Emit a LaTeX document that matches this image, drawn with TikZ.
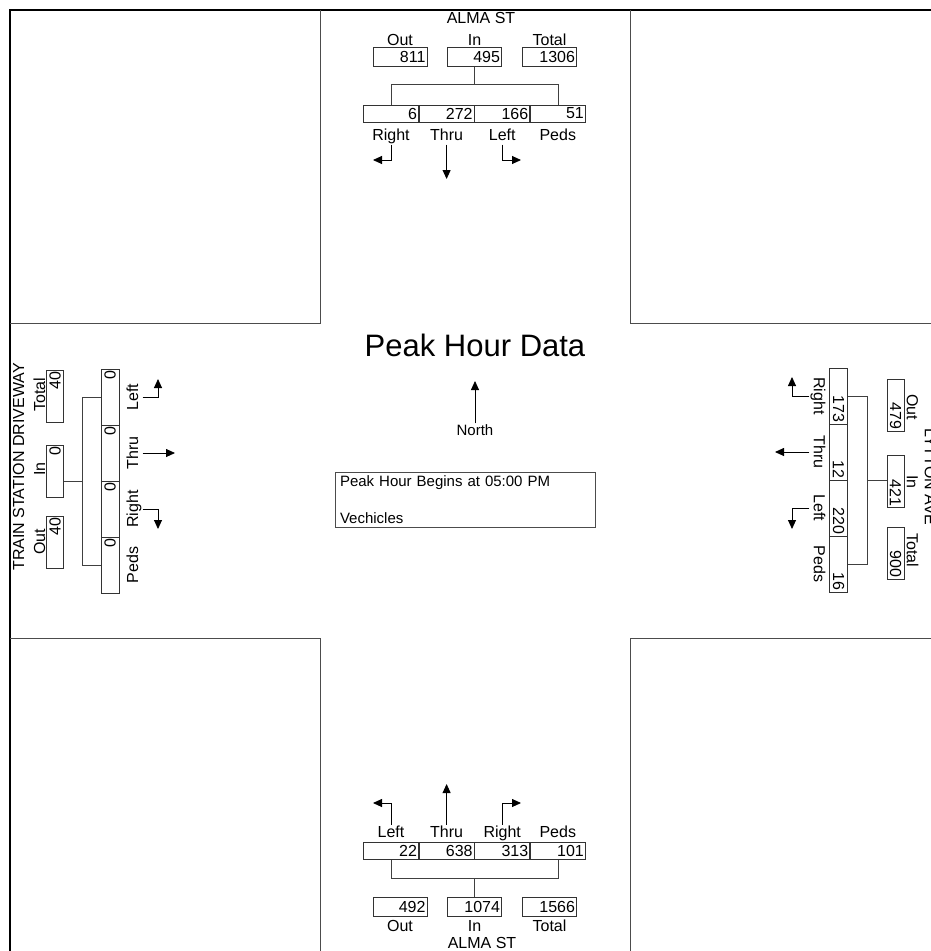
\documentclass[tikz,border=0pt]{standalone}
\usepackage{fontspec}
\setmainfont{Liberation Sans}
\usetikzlibrary{arrows.meta, positioning, calc}
\tikzset{
  rim/.style    = {draw=black, line width=1.6pt},
  frm/.style    = {draw=black!70, line width=0.7pt},
  box/.style    = {draw=black!80, line width=0.6pt, inner sep=1.5pt, text width=51pt,
                   align=right, minimum height=19pt, font=\fontsize{16}{16}\selectfont},
  cell/.style   = {box, text width=52pt, minimum height=17pt},
  vbox/.style   = {box, text width=49pt, minimum height=17pt},
  vcell/.style  = {box, text width=53pt, minimum height=18pt},
  lbl/.style    = {font=\fontsize{16}{16}\selectfont, inner sep=1pt,
                   text height=11.5pt, text depth=3.4pt},
  street/.style = {lbl},
  br/.style     = {draw=black!75, line width=0.6pt},
  mv/.style     = {draw=black, line width=0.9pt, -{Triangle[length=9pt, width=8pt]}},
}
\begin{document}
\begin{tikzpicture}[x=1pt, y=-1pt]
\useasboundingbox (0,0) rectangle (931,951);
\clip (0,0) rectangle (931,951);
% frame and corner blocks
\draw[rim] (10,951) -- (10,10) -- (931,10);
\draw[frm] (320,10) -- (320,323) -- (10,323);
\draw[frm] (630,10) -- (630,323) -- (931,323);
\draw[frm] (10,638) -- (320,638) -- (320,951);
\draw[frm] (931,638) -- (630,638) -- (630,951);

% north approach
\node[street] (nSt) at (481,19) {ALMA ST};
\node[box] (nOut) at (400,57) {811};
\node[box] (nIn)  at (474.5,57) {495};
\node[box] (nTot) at (549.5,57) {1306};
\node[lbl, above=-2.5pt of nOut] (nOutL) {Out};
\node[lbl, above=-2.5pt of nIn]  (nInL)  {In};
\node[lbl, above=-2.5pt of nTot] (nTotL) {Total};
\node[cell] (nRt) at (391,113.5) {6};
\node[cell, right=0pt of nRt] (nTh) {272};
\node[cell, right=0pt of nTh] (nLt) {166};
\node[cell, right=0pt of nLt] (nPd) {51};
\node[lbl, below=5pt of nRt] (nRtL) {Right};
\node[lbl, below=5pt of nTh] (nThL) {Thru};
\node[lbl, below=5pt of nLt] (nLtL) {Left};
\node[lbl, below=5pt of nPd] (nPdL) {Peds};
\draw[br] (nRt.north) -- ++(0,-20) coordinate (nbk) -| (nPd.north);
\draw[br] (nIn.south) -- (nIn.south |- nbk);
\coordinate (nRtA) at (373,160);
\coordinate (nThA) at (446,179);
\coordinate (nLtA) at (521,160);
\draw[mv] (nRtL.south) |- (nRtA);
\draw[mv] (nThL.south) -- (nThL.south |- nThA);
\draw[mv] (nLtL.south) |- (nLtA);

% south approach
\node[cell] (sLt) at (391,851) {22};
\node[cell, right=0pt of sLt] (sTh) {638};
\node[cell, right=0pt of sTh] (sRt) {313};
\node[cell, right=0pt of sRt] (sPd) {101};
\node[lbl, above=0pt of sLt] (sLtL) {Left};
\node[lbl, above=0pt of sTh] (sThL) {Thru};
\node[lbl, above=0pt of sRt] (sRtL) {Right};
\node[lbl, above=0pt of sPd] (sPdL) {Peds};
\node[box] (sOut) at (400,907) {492};
\node[box] (sIn)  at (474.5,907) {1074};
\node[box] (sTot) at (549.5,907) {1566};
\node[lbl, below=2pt of sOut] (sOutL) {Out};
\node[lbl, below=2pt of sIn]  (sInL)  {In};
\node[lbl, below=2pt of sTot] (sTotL) {Total};
\node[street] (sSt) at (482,944) {ALMA ST};
\draw[br] (sLt.south) -- ++(0,18) coordinate (sbk) -| (sPd.south);
\draw[br] (sIn.north) -- (sIn.north |- sbk);
\coordinate (sLtA) at (373,803);
\coordinate (sThA) at (446,784);
\coordinate (sRtA) at (521,803);
\draw[mv] (sLtL.north) |- (sLtA);
\draw[mv] (sThL.north) -- (sThL.north |- sThA);
\draw[mv] (sRtL.north) |- (sRtA);

% west approach
\node[street, rotate=90] (wSt) at (20,467) {TRAIN STATION DRIVEWAY};
\node[vbox, rotate=90] (wOut) at (55,542) {40};
\node[vbox, rotate=90] (wIn)  at (55,471) {0};
\node[vbox, rotate=90] (wTot) at (55,396) {40};
\node[lbl, rotate=90] (wOutL) at (41,542) {Out};
\node[lbl, rotate=90] (wInL)  at (41,469) {In};
\node[lbl, rotate=90] (wTotL) at (41,395) {Total};
\node[vcell, rotate=90] (wLt) at (110,397) {0};
\node[vcell, rotate=90] (wTh) at (110,453) {0};
\node[vcell, rotate=90] (wRt) at (110,509) {0};
\node[vcell, rotate=90] (wPd) at (110,565) {0};
\node[lbl, rotate=90] (wLtL) at (134,397) {Left};
\node[lbl, rotate=90] (wThL) at (134,453) {Thru};
\node[lbl, rotate=90] (wRtL) at (134,509) {Right};
\node[lbl, rotate=90] (wPdL) at (134,565) {Peds};
\draw[br] (wLt.north) -- ++(-18,0) coordinate (wbk) |- (wPd.north);
\coordinate (wmid) at ($(wLt.north)!0.5!(wPd.north)$);
\draw[br] (wmid -| wbk) -- (wmid -| wIn.south);
\coordinate (wLtA) at (158,379);
\coordinate (wThA) at (175,453);
\coordinate (wRtA) at (158,529);
\draw[mv] (wLtL.south) -| (wLtA);
\draw[mv] (wThL.south) -- (wThA);
\draw[mv] (wRtL.south) -| (wRtA);

% east approach
\node[street, rotate=-90] (eSt) at (929,477) {LYTTON AVE};
\node[vbox, rotate=-90] (eOut) at (895.5,405) {479};
\node[vbox, rotate=-90] (eIn)  at (895.5,481.5) {421};
\node[vbox, rotate=-90] (eTot) at (895.5,553) {900};
\node[lbl, rotate=-90] (eOutL) at (911,407) {Out};
\node[lbl, rotate=-90] (eInL)  at (911,482) {In};
\node[lbl, rotate=-90] (eTotL) at (911,550) {Total};
\node[vcell, rotate=-90] (eRt) at (838.5,396) {173};
\node[vcell, rotate=-90] (eTh) at (838.5,452) {12};
\node[vcell, rotate=-90] (eLt) at (838.5,508) {220};
\node[vcell, rotate=-90] (ePd) at (838.5,564) {16};
\node[lbl, rotate=-90] (eRtL) at (818,396) {Right};
\node[lbl, rotate=-90] (eThL) at (818,452) {Thru};
\node[lbl, rotate=-90] (eLtL) at (818,508) {Left};
\node[lbl, rotate=-90] (ePdL) at (818,564) {Peds};
\draw[br] (eRt.north) -- ++(19,0) coordinate (ebk) |- (ePd.north);
\coordinate (emid) at ($(eRt.north)!0.5!(ePd.north)$);
\draw[br] (emid -| ebk) -- (emid -| eIn.south);
\coordinate (eRtA) at (792,377);
\coordinate (eThA) at (775,452);
\coordinate (eLtA) at (792,529);
\draw[mv] (eRtL.south) -| (eRtA);
\draw[mv] (eThL.south) -- (eThA);
\draw[mv] (eLtL.south) -| (eLtA);

% centre
\node[font=\fontsize{31}{31}\selectfont] (ttl) at (475,345) {Peak Hour Data};
\node[font=\fontsize{15}{15}\selectfont, inner sep=1pt] (nrth) at (475,430) {North};
\coordinate (nrthA) at (475,381);
\draw[mv] (nrth.north) -- (nrthA);
\node[draw=black!70, line width=0.5pt, text width=250pt, align=left, inner xsep=5pt,
      inner ysep=3.5pt, font=\fontsize{15}{18}\selectfont] (info) at (465,500)
  {Peak Hour Begins at 05:00 PM\\[19pt]Vechicles};
\end{tikzpicture}
\end{document}
